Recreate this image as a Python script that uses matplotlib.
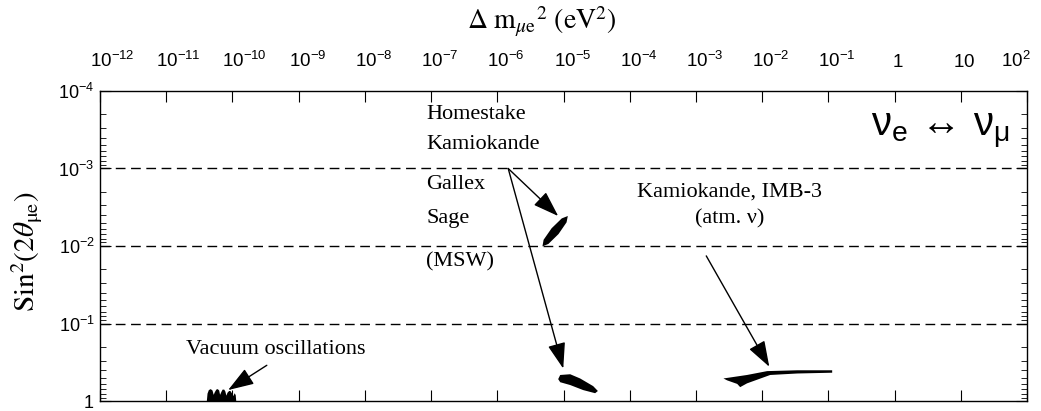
'''
Neutrino oscillation parameter space, nu_e <-> nu_mu,
with the solar (MSW, vacuum) and atmospheric regions.
'''

import matplotlib
matplotlib.use("Agg")
import matplotlib.pyplot as plt
import matplotlib.transforms as mtransforms

#################################

plt.rcParams['mathtext.fontset'] = 'custom'
plt.rcParams['mathtext.rm'] = 'Liberation Sans'
plt.rcParams['mathtext.it'] = 'Liberation Sans:italic'
plt.rcParams['mathtext.bf'] = 'Liberation Sans:bold'

# axis decades
xTicks = [1e-12, 1e-11, 1e-10, 1e-9, 1e-8, 1e-7, 1e-6, 1e-5, 1e-4, 1e-3, 1e-2, 1e-1, 1, 10, 1e2]
xTickLabels = [r'$10^{-12}$', r'$10^{-11}$', r'$10^{-10}$', r'$10^{-9}$', r'$10^{-8}$',
               r'$10^{-7}$', r'$10^{-6}$', r'$10^{-5}$', r'$10^{-4}$', r'$10^{-3}$',
               r'$10^{-2}$', r'$10^{-1}$', r'$1$', r'$10$', r'$10^{2}$']
yTicks = [1e-4, 1e-3, 1e-2, 1e-1, 1]
yTickLabels = [r'$10^{-4}$', r'$10^{-3}$', r'$10^{-2}$', r'$10^{-1}$', r'$1$']
dashedLevels = [1e-3, 1e-2, 1e-1]

# allowed regions (outlines in dm2 [eV^2], sin^2 2theta)
mswSmallDm2 = [1.16e-5, 1.11e-5, 8.4e-6, 5.9e-6, 4.8e-6, 5.0e-6, 6.6e-6, 9.4e-6]
mswSmallSin = [4.1e-3, 4.95e-3, 7.0e-3, 9.4e-3, 1.01e-2, 8.3e-3, 5.9e-3, 4.4e-3]

mswLargeDm2 = [8.9e-6, 1.26e-5, 1.78e-5, 2.8e-5, 3.3e-5, 3.0e-5, 1.98e-5, 1.26e-5, 8.9e-6, 8.3e-6]
mswLargeSin = [0.46, 0.45, 0.51, 0.64, 0.74, 0.79, 0.72, 0.62, 0.57, 0.52]

atmDm2 = [2.6e-3, 5.9e-3, 1.19e-2, 3.4e-2, 0.114, 0.114, 3.4e-2, 1.32e-2, 5.9e-3, 4.65e-3, 4.2e-3, 2.96e-3]
atmSin = [0.51, 0.46, 0.41, 0.40, 0.40, 0.43, 0.44, 0.46, 0.59, 0.66, 0.60, 0.54]

vacDm2 = [4.1e-11, 4.2e-11, 4.4e-11, 4.7e-11, 5.0e-11, 5.2e-11, 5.4e-11, 5.7e-11, 6.0e-11,
          6.3e-11, 6.5e-11, 6.8e-11, 7.1e-11, 7.5e-11, 7.8e-11, 8.1e-11, 8.4e-11,
          8.9e-11, 9.3e-11, 9.8e-11, 1.03e-10, 1.08e-10, 1.12e-10, 1.14e-10]
vacSin = [1.0, 0.80, 0.72, 0.70, 0.73, 0.83, 0.77, 0.71, 0.70, 0.73, 0.83, 0.76, 0.71,
          0.71, 0.75, 0.85, 0.78, 0.74, 0.74, 0.79, 0.86, 0.79, 0.84, 1.0]

# arrows: (start, tip)
arrows = [((1.46e-6, 1.0e-3), (8.3e-6, 4.1e-3)),
          ((1.46e-6, 1.0e-3), (9.9e-6, 0.38)),
          ((1.43e-3, 1.34e-2), (1.28e-2, 0.36)),
          ((3.3e-10, 0.345), (8.6e-11, 0.72))]


if __name__ == "__main__":
  '''Main block'''

  fig = plt.figure(figsize=(10.41, 4.11), dpi=100)
  ax = fig.add_axes([0.0961, 0.024, 0.8905, 0.7547])

  ax.set_xscale('log')
  ax.set_yscale('log')
  ax.set_xlim(1e-12, 1e2)
  ax.set_ylim(1, 1e-4)

  # dashed reference levels
  for lev in dashedLevels:
    ax.axhline(lev, color='black', lw=1.0, ls=(0, (7, 4)))

  # filled regions
  ax.fill(mswSmallDm2, mswSmallSin, color='black', lw=0)
  ax.fill(mswLargeDm2, mswLargeSin, color='black', lw=0)
  ax.fill(atmDm2, atmSin, color='black', lw=0)
  ax.fill(vacDm2, vacSin, color='black', lw=0)

  for start, tip in arrows:
    ax.annotate('', xy=tip, xytext=start,
                arrowprops=dict(arrowstyle='-|>,head_length=1.6,head_width=0.55',
                                color='black', lw=1.0, shrinkA=0, shrinkB=0,
                                mutation_scale=10))

  # ticks
  ax.set_xticks(xTicks)
  ax.set_xticklabels([])
  ax.set_yticks(yTicks)
  ax.set_yticklabels(yTickLabels, fontsize=13)
  ax.tick_params(which='both', direction='in', top=True, right=True,
                 labelbottom=False, labeltop=False)
  ax.tick_params(which='major', length=8, width=0.8)
  ax.tick_params(which='minor', length=4, width=0.6)
  ax.tick_params(axis='y', pad=4)
  for sp in ax.spines.values():
    sp.set_linewidth(1.0)

  # top tick labels, with the "10" sitting on the tick
  tr = mtransforms.blended_transform_factory(ax.transData, ax.transAxes)
  for xv, lab in zip(xTicks, xTickLabels):
    if xv == 1 or xv == 10:
      ha, dx = 'center', 3
    elif xv == xTicks[-1]:
      ha, dx = 'right', 4
    else:
      ha, dx = 'left', -10
    off = mtransforms.ScaledTranslation(dx / 100.0, 0, fig.dpi_scale_trans)
    ax.text(xv, 1.065, lab, transform=tr + off, ha=ha, va='bottom',
            fontsize=13.5, clip_on=False)

  # axis titles
  fig.text(0.52, 0.948, r'$\Delta\ \mathrm{m}_{\mu\mathrm{e}}{}^{2}\ (\mathrm{eV}^{2})$',
           ha='center', va='center', fontsize=20, math_fontfamily='stix')
  fig.text(0.026, 0.387, r'$\mathrm{Sin}^{2}(2\theta_{\mathrm{\mu e}})$',
           ha='center', va='center', rotation=90, fontsize=21, math_fontfamily='stix')

  # region labels
  serif = 'Liberation Serif'
  for txt, yy in [('Homestake', 0.923), ('Kamiokande', 0.827), ('Gallex', 0.700),
                  ('Sage', 0.588), ('(MSW)', 0.450)]:
    ax.text(0.352, yy, txt, transform=ax.transAxes, ha='left', va='center',
            fontsize=16, family=serif)
  ax.text(0.679, 0.674, 'Kamiokande, IMB-3', transform=ax.transAxes, ha='center',
          va='center', fontsize=16, family=serif)
  ax.text(0.679, 0.588, '(atm. ν)', transform=ax.transAxes, ha='center',
          va='center', fontsize=16, family=serif)
  ax.text(0.190, 0.166, 'Vacuum oscillations', transform=ax.transAxes, ha='center',
          va='center', fontsize=16, family=serif)
  ax.text(0.907, 0.875, r'$\mathrm{ν_e}\,\leftrightarrow\,\mathrm{ν_μ}$',
          transform=ax.transAxes, ha='center', va='center', fontsize=29)

  plt.savefig('out.png', dpi=100)
